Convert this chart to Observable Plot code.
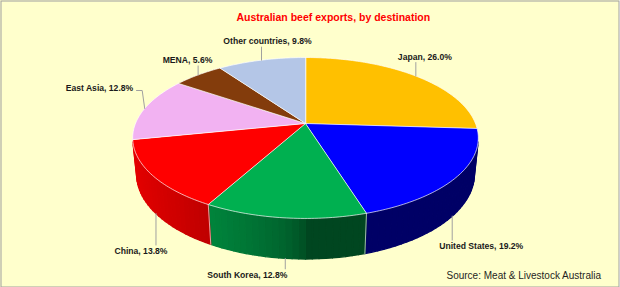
<!DOCTYPE html>
<html>
<head>
<meta charset="utf-8">
<script src="https://cdn.jsdelivr.net/npm/d3@7"></script>
<script src="https://cdn.jsdelivr.net/npm/@observablehq/plot@0.6"></script>
<style>
  html, body { margin: 0; padding: 0; background: #ffffff; }
</style>
</head>
<body>
<div id="chart"></div>
<script>
// ---- data ----
const categories = ["Japan", "United States", "South Korea", "China", "East Asia", "MENA", "Other countries"];
const shares = [26.0, 19.2, 12.8, 13.8, 12.8, 5.6, 9.8];
const colors = ["#FFC000", "#0000FF", "#00B050", "#FF0000", "#F2B2F2", "#833C0C", "#B4C6E7"];
const title = "Australian beef exports, by destination";
const source = "Source: Meat & Livestock Australia";

// ---- layout (3D pie geometry) ----
const W = 619, H = 287;
const CX = 305, CY = 123, S = 170;      // centre and radius (px)
const sinA = 0.458, cosA = Math.sqrt(1 - sinA * sinA); // tilt
const D = 4.94;                          // camera distance (radius units)
const T = 0.24;                          // thickness (radius units)
const FONT = "'Liberation Sans', Arial, sans-serif";

// label placement relative to each slice's anchor point
const labelLayout = {
  "Japan":           { dx: 9,     dy: -19,   anchor: "middle" },
  "United States":   { dx: 29,    dy: 30.5,  anchor: "middle" },
  "South Korea":     { dx: -38,   dy: 17,    anchor: "middle" },
  "China":           { dx: -15,   dy: 38,    anchor: "middle" },
  "East Asia":       { dx: -11.5, dy: -20.3, anchor: "end" },
  "MENA":            { dx: -10.6, dy: -14.5, anchor: "middle" },
  "Other countries": { dx: 6,     dy: -18.6, anchor: "middle" }
};

function project(u, v, z) {
  const yv = v * sinA - z * cosA;
  const d = v * cosA + z * sinA;
  const s = D / (D - d);
  return [CX + S * u * s, CY + S * yv * s];
}
function rim(theta, z) { return project(Math.sin(theta), -Math.cos(theta), z); }
function samples(a0, a1, step) {
  const n = Math.max(1, Math.ceil((a1 - a0) / step));
  return d3.range(n + 1).map(i => a0 + (a1 - a0) * i / n);
}
const deg = Math.PI / 180;

const pie = d3.pie().sort(null).value(d => d)(shares);
const vmin = 1 / (D * cosA);
const thMin = Math.acos(-vmin), thMax = 2 * Math.PI - thMin;

// top faces
const topRows = [];
pie.forEach((p, i) => {
  const pts = [project(0, 0, 0), ...samples(p.startAngle, p.endAngle, deg).map(a => rim(a, 0))];
  pts.forEach(([x, y]) => topRows.push({ id: i, x, y, fill: colors[i] }));
});

// side walls (visible front part), shaded strips
const sideRows = [];
pie.forEach((p, i) => {
  const a0 = Math.max(p.startAngle, thMin), a1 = Math.min(p.endAngle, thMax);
  if (a1 <= a0) return;
  const as = samples(a0, a1, 2 * deg);
  const c = d3.rgb(colors[i]);
  for (let k = 0; k < as.length - 1; k++) {
    const am = (as[k] + as[k + 1]) / 2;
    const f = 0.4 + 0.5 * Math.sqrt(Math.max(0, -Math.sin(am)));
    const col = d3.rgb(c.r * f, c.g * f, c.b * f).formatHex();
    [rim(as[k], 0), rim(as[k + 1], 0), rim(as[k + 1], -T), rim(as[k], -T)]
      .forEach(([x, y]) => sideRows.push({ id: `${i}-${k}`, x, y, fill: col }));
  }
});

// vertical edges between side walls
const edgeRows = [];
pie.slice(0, -1).forEach((p, i) => {
  const a = p.endAngle;
  if (a > thMin && a < thMax) {
    [rim(a, 0), rim(a, -T)].forEach(([x, y]) => edgeRows.push({ id: i, x, y }));
  }
});

// labels and leader lines
const labelRows = [];
const leaderRows = [];
pie.forEach((p, i) => {
  const name = categories[i];
  const mid = (p.startAngle + p.endAngle) / 2;
  const front = mid > thMin && mid < thMax;
  const [ax, ay] = rim(mid, front ? -T : 0);
  const L = labelLayout[name];
  const lx = ax + L.dx, ly = ay + L.dy;
  labelRows.push({ x: lx, y: ly, text: `${name}, ${shares[i].toFixed(1)}%`, anchor: L.anchor });
  if (L.anchor === "end") {
    [[ax, ay], [ax - 2.5, ly + 2.3], [lx + 3.3, ly + 2.3]].forEach(([x, y]) => leaderRows.push({ id: i, x, y }));
  } else {
    const ey = L.dy < 0 ? ly + 5.5 : ly - 6.5;
    [[ax, ay], [ax, ey]].forEach(([x, y]) => leaderRows.push({ id: i, x, y }));
  }
});

const chart = Plot.plot({
  width: W,
  height: H,
  margin: 0,
  x: { domain: [0, W], range: [0, W], axis: null },
  y: { domain: [0, H], range: [0, H], axis: null },
  color: { type: "identity" },
  style: { background: "#FFFFCC", fontFamily: FONT, overflow: "visible" },
  marks: [
    Plot.line(sideRows, { x: "x", y: "y", z: "id", fill: "fill", stroke: "fill", strokeWidth: 1.3, strokeLinejoin: "round", curve: "linear-closed" }),
    Plot.line(edgeRows, { x: "x", y: "y", z: "id", stroke: "#ffffff", strokeOpacity: 0.7, strokeWidth: 0.9 }),
    Plot.line(topRows, { x: "x", y: "y", z: "id", fill: "fill", stroke: "#ffffff", strokeOpacity: 0.85, strokeWidth: 0.8, strokeLinejoin: "round", curve: "linear-closed" }),
    Plot.line(leaderRows, { x: "x", y: "y", z: "id", stroke: "#a0a0a0", strokeWidth: 1 }),
    Plot.text(labelRows.filter(d => d.anchor === "middle"), { x: "x", y: "y", text: "text", textAnchor: "middle", fontSize: 8.6, fontWeight: "bold", fill: "#1a1a1a" }),
    Plot.text(labelRows.filter(d => d.anchor === "end"), { x: "x", y: "y", text: "text", textAnchor: "end", fontSize: 8.6, fontWeight: "bold", fill: "#1a1a1a" }),
    Plot.text([title], { x: () => 332.8, y: () => 16.7, text: d => d, textAnchor: "middle", fontSize: 10.5, fontWeight: "bold", fill: "#FF0000" }),
    Plot.text([source], { x: () => 446, y: () => 275, text: d => d, textAnchor: "start", fontSize: 10, fill: "#1f1f1f" }),
    Plot.frame({ stroke: "#a0a0a0", inset: 0.5 })
  ]
});
document.getElementById("chart").appendChild(chart);
</script>
</body>
</html>
